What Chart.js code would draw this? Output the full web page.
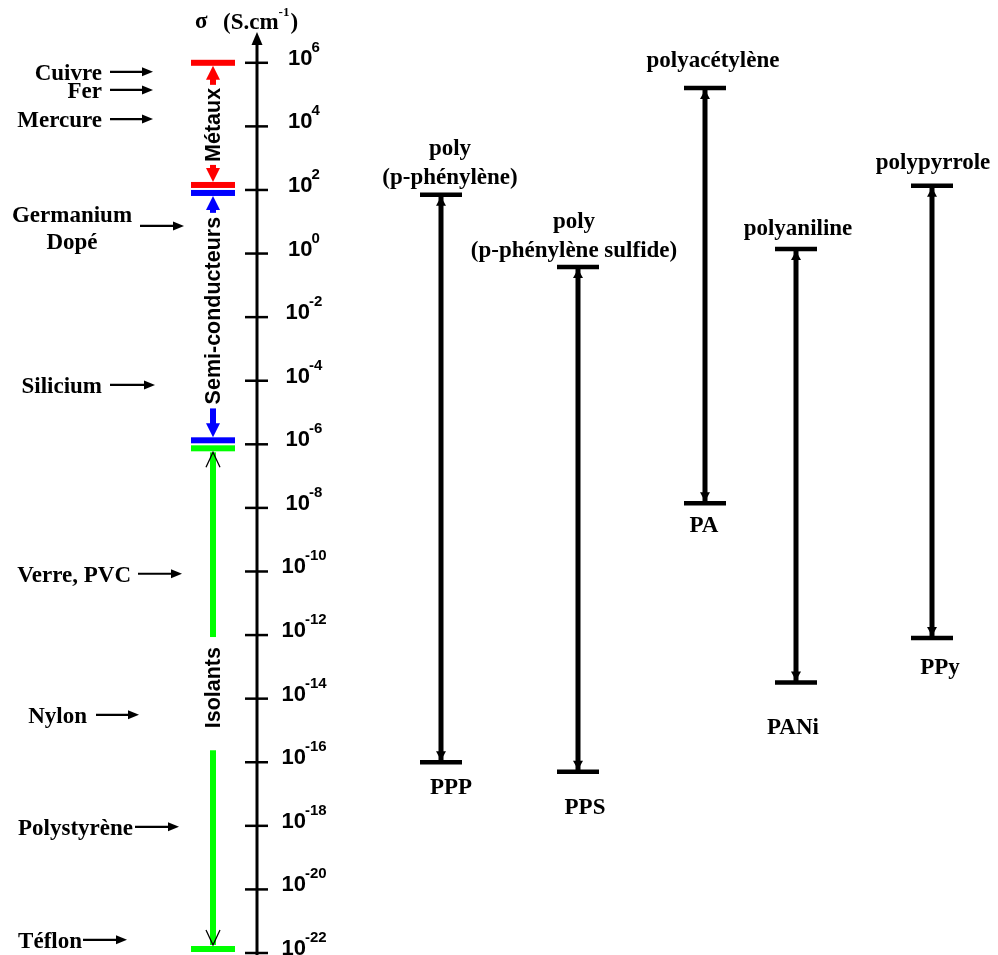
<!DOCTYPE html>
<html>
<head>
<meta charset="utf-8">
<script src="https://cdn.jsdelivr.net/npm/chart.js@4/dist/chart.umd.min.js"></script>
<style>
  html, body { margin: 0; padding: 0; background: #ffffff; }
  #wrap { width: 998px; height: 955px; position: relative; }
</style>
</head>
<body>
<div id="wrap"><canvas id="c"></canvas></div>
<script>
// ================= DATA =================
// conductivity axis: even powers of ten shown as ticks (exponents)
const axisExponents = [6, 4, 2, 0, -2, -4, -6, -8, -10, -12, -14, -16, -18, -20, -22];
const axisTitle = ['σ', '(S.cm', '-1', ')'];

// material classes (range of conductivity, S/cm)
const bandNames = ['Métaux', 'Semi-conducteurs', 'Isolants'];
const bandHigh  = [1e6, 1e2, 1e-6];
const bandLow   = [1e2, 1e-6, 1e-22];

// reference materials (conductivity, S/cm)
const materialNames  = ['Cuivre', 'Fer', 'Mercure', 'Germanium\nDopé', 'Silicium', 'Verre, PVC', 'Nylon', 'Polystyrène', 'Téflon'];
const materialValues = [5.2e5, 1.4e5, 1.7e4, 7.4e0, 7.4e-5, 8.5e-11, 3.1e-15, 9.3e-19, 2.6e-22];

// conducting polymers (conductivity range, S/cm)
const polymerNames = ['poly\n(p-phénylène)', 'poly\n(p-phénylène sulfide)', 'polyacétylène', 'polyaniline', 'polypyrrole'];
const polymerAbbr  = ['PPP', 'PPS', 'PA', 'PANi', 'PPy'];
const polymerHigh  = [7.1e1, 3.8e-1, 1.6e5, 1.4e0, 1.35e2];
const polymerLow   = [1e-16, 5e-17, 1.4e-8, 3.2e-14, 8.1e-13];

// ================= LAYOUT / STYLE =================
const L = {
  axisX: 257, tickL: 12, tickR: 11, tickLabelCenter: 304,
  bandX: 213, bandCapHalf: 22, bandCapH: 6, bandShaft: 6,
  bandHiInset: [0, 3, 4], bandLoInset: [5, 4, 4],
  bandTextDy: [1, -6, -11], bandGapDy: [1, -6, -5], bandGapHalfPad: [3, 4, 16],
  bandHead: ['fill', 'fill', 'open'],
  matTextX: [102, 102, 102, 72, 102, 131, 87, 133, 82],
  matAlign: ['right', 'right', 'right', 'center', 'right', 'right', 'right', 'right', 'right'],
  matArrow: [[110, 153], [110, 153], [110, 153], [140, 184], [110, 155], [138, 182], [96, 139], [135, 179], [83, 127]],
  colX: [441, 578, 705, 796, 932],
  topDx: [9, -4, 8, 2, 1], topGap: [18, 17, 28, 21, 24],
  botDx: [10, 7, -1, -3, 8], botGap: [25, 35, 22, 44, 29],
  lineH: 29
};
const C = { band: ['#ff0000', '#0000ff', '#00ff00'], ink: '#000000' };
const F = {
  label: 'bold 23px "Liberation Serif", "Times New Roman", serif',
  sup: 'bold 13px "Liberation Serif", "Times New Roman", serif',
  band: 'bold 21.5px "Liberation Sans", Arial, sans-serif',
  tick: 'bold 22px "Liberation Sans", Arial, sans-serif',
  tickExp: 'bold 15px "Liberation Sans", Arial, sans-serif'
};

function triV(ctx, cx, tipY, hw, len, dir) { // dir=+1: points up (base below tip)
  ctx.beginPath();
  ctx.moveTo(cx, tipY);
  ctx.lineTo(cx - hw, tipY + dir * len);
  ctx.lineTo(cx + hw, tipY + dir * len);
  ctx.closePath();
  ctx.fill();
}
function triH(ctx, tipX, cy, hh, len) { // points right
  ctx.beginPath();
  ctx.moveTo(tipX, cy);
  ctx.lineTo(tipX - len, cy - hh);
  ctx.lineTo(tipX - len, cy + hh);
  ctx.closePath();
  ctx.fill();
}

const diagramPlugin = {
  id: 'diagram',
  afterDatasetsDraw(chart) {
    const { ctx, scales: { x, y } } = chart;
    const px = v => x.getPixelForValue(v);
    const py = v => y.getPixelForValue(v);
    ctx.save();

    // ---- polymer arrowheads and labels ----
    ctx.fillStyle = C.ink;
    polymerAbbr.forEach((abbr, i) => {
      const cx = px(L.colX[i]);
      const yt = py(polymerHigh[i]);
      const yb = py(polymerLow[i]);
      triV(ctx, cx, yt + 2, 5, 9, 1);
      triV(ctx, cx, yb - 2, 5, 9, -1);
      ctx.font = F.label;
      ctx.textAlign = 'center';
      ctx.textBaseline = 'alphabetic';
      const lines = polymerNames[i].split('\n');
      lines.forEach((ln, k) => {
        const cy = yt - L.topGap[i] - (lines.length - 1 - k) * L.lineH;
        ctx.fillText(ln, cx + L.topDx[i], cy + 7);
      });
      ctx.fillText(abbr, cx + L.botDx[i], yb + L.botGap[i] + 7);
    });

    // ---- main axis ----
    const ax = px(L.axisX);
    const yTop = y.top;
    ctx.strokeStyle = C.ink;
    ctx.lineWidth = 3;
    ctx.beginPath();
    ctx.moveTo(ax, yTop + 10);
    ctx.lineTo(ax, chart.height);
    ctx.stroke();
    triV(ctx, ax, yTop + 1, 5.5, 13, 1);

    axisExponents.forEach(e => {
      const ty = py(Number('1e' + e));
      ctx.lineWidth = 2.5;
      ctx.beginPath();
      ctx.moveTo(ax - L.tickL, ty);
      ctx.lineTo(ax + L.tickR, ty);
      ctx.stroke();
      ctx.font = F.tick;
      const w1 = ctx.measureText('10').width;
      ctx.font = F.tickExp;
      const es = String(e);
      const w2 = ctx.measureText(es).width;
      const x0 = L.tickLabelCenter - (w1 + w2 - 1) / 2;
      ctx.textAlign = 'left';
      ctx.textBaseline = 'alphabetic';
      ctx.font = F.tick;
      ctx.fillText('10', x0, ty + 2);
      ctx.font = F.tickExp;
      ctx.fillText(es, x0 + w1 - 1, ty - 11);
    });

    // axis title
    ctx.font = F.label;
    ctx.textAlign = 'left';
    ctx.fillText(axisTitle[0], 195, 28);
    ctx.fillText(axisTitle[1], 223, 29);
    const wt = ctx.measureText(axisTitle[1]).width;
    ctx.font = F.sup;
    ctx.fillText(axisTitle[2], 223 + wt, 16);
    const ws = ctx.measureText(axisTitle[2]).width;
    ctx.font = F.label;
    ctx.fillText(axisTitle[3], 223 + wt + ws + 1, 29);

    // ---- material classes ----
    bandNames.forEach((name, i) => {
      const col = C.band[i];
      const cx = px(L.bandX);
      const top = py(bandHigh[i]) + L.bandHiInset[i];
      const bot = py(bandLow[i]) - L.bandLoInset[i];
      const hc = L.bandCapH / 2, sw = L.bandShaft;
      ctx.fillStyle = col;
      ctx.fillRect(cx - L.bandCapHalf, top - hc, 2 * L.bandCapHalf, L.bandCapH);
      ctx.fillRect(cx - L.bandCapHalf, bot - hc, 2 * L.bandCapHalf, L.bandCapH);
      ctx.font = F.band;
      const tw = ctx.measureText(name).width;
      const mid = (top + bot) / 2;
      const gc = mid + L.bandGapDy[i];
      const g0 = gc - tw / 2 - L.bandGapHalfPad[i];
      const g1 = gc + tw / 2 + L.bandGapHalfPad[i];
      const tipT = top + hc, tipB = bot - hc;
      if (L.bandHead[i] === 'fill') {
        triV(ctx, cx, tipT, 7, 14, 1);
        triV(ctx, cx, tipB, 7, 14, -1);
        if (g0 > tipT + 12) ctx.fillRect(cx - sw / 2, tipT + 12, sw, g0 - tipT - 12);
        if (tipB - 12 > g1) ctx.fillRect(cx - sw / 2, g1, sw, tipB - 12 - g1);
      } else {
        const t1 = tipT + 1, t2 = tipB - 1;
        ctx.fillRect(cx - sw / 2, t1, sw, g0 - t1);
        ctx.fillRect(cx - sw / 2, g1, sw, t2 - g1);
        ctx.strokeStyle = C.ink;
        ctx.lineWidth = 1.3;
        ctx.beginPath();
        ctx.moveTo(cx - 7, t1 + 15); ctx.lineTo(cx, t1); ctx.lineTo(cx + 7, t1 + 15);
        ctx.moveTo(cx - 7, t2 - 15); ctx.lineTo(cx, t2); ctx.lineTo(cx + 7, t2 - 15);
        ctx.stroke();
      }
      ctx.save();
      ctx.translate(cx, mid + L.bandTextDy[i]);
      ctx.rotate(-Math.PI / 2);
      ctx.fillStyle = C.ink;
      ctx.textAlign = 'center';
      ctx.textBaseline = 'alphabetic';
      ctx.fillText(name, 0, 7);
      ctx.restore();
    });

    // ---- reference materials ----
    ctx.fillStyle = C.ink;
    ctx.strokeStyle = C.ink;
    materialNames.forEach((name, i) => {
      const my = py(materialValues[i]);
      const lines = name.split('\n');
      ctx.font = F.label;
      ctx.textAlign = L.matAlign[i];
      ctx.textBaseline = 'alphabetic';
      lines.forEach((ln, k) => {
        const cy = my + (k - (lines.length - 1) / 2) * 27 + (lines.length > 1 ? 2 : 0);
        ctx.fillText(ln, px(L.matTextX[i]), cy + 8);
      });
      const [a0, a1] = L.matArrow[i];
      ctx.lineWidth = 2.2;
      ctx.beginPath();
      ctx.moveTo(px(a0), my);
      ctx.lineTo(px(a1) - 9, my);
      ctx.stroke();
      triH(ctx, px(a1), my, 4.5, 11);
    });

    ctx.restore();
  }
};

const datasets = polymerAbbr.map((abbr, i) => ({
  label: abbr,
  data: [{ x: L.colX[i], y: polymerHigh[i] }, { x: L.colX[i], y: polymerLow[i] }],
  showLine: true,
  borderColor: C.ink,
  borderWidth: 5,
  pointStyle: 'line',
  pointRadius: 21,
  pointHoverRadius: 21,
  pointBorderWidth: 4.5,
  pointBorderColor: C.ink,
  pointBackgroundColor: C.ink
}));

new Chart(document.getElementById('c'), {
  type: 'scatter',
  data: { datasets },
  options: {
    responsive: true,
    maintainAspectRatio: false,
    animation: false,
    events: [],
    layout: { autoPadding: false, padding: { top: 31, bottom: 2, left: 0, right: 0 } },
    plugins: { legend: { display: false }, tooltip: { enabled: false } },
    scales: {
      x: { type: 'linear', min: 0, max: 998, display: false },
      y: { type: 'logarithmic', min: 1e-22, max: 1e7, bounds: 'data', display: false }
    }
  },
  plugins: [diagramPlugin]
});
</script>
</body>
</html>
